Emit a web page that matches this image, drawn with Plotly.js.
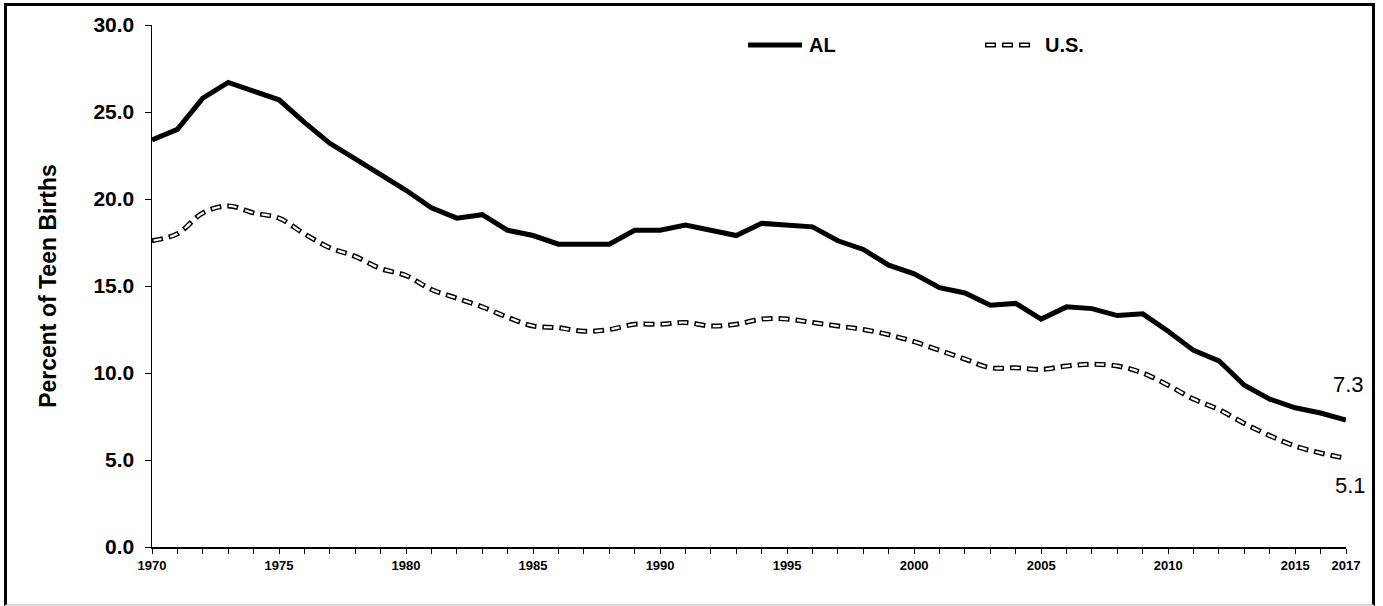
<!DOCTYPE html>
<html>
<head>
<meta charset="utf-8">
<script src="https://cdn.plot.ly/plotly-3.0.1.min.js"></script>
<style>
  html, body { margin: 0; padding: 0; background: #fff; }
  #wrap { position: relative; width: 1383px; height: 606px; }
  #chart { position: absolute; left: 0; top: 0; width: 1383px; height: 606px; }
  #frame { position: absolute; left: 4px; top: 3px; width: 1365px; height: 598px;
           border-left: 3px solid #000; border-top: 3px solid #000; border-right: 3px solid #000;
           border-bottom: 2px solid #d9d9d9; pointer-events: none; }
</style>
</head>
<body>
<div id="wrap">
  <div id="chart"></div>
  <div id="frame"></div>
</div>
<script>
// ---- data ----
const years = [];
for (let y = 1970; y <= 2017; y++) years.push(y);

const alValues = [23.4,24.0,25.8,26.7,26.2,25.7,24.4,23.2,22.3,21.4,
                  20.5,19.5,18.9,19.1,18.2,17.9,17.4,17.4,17.4,18.2,
                  18.2,18.5,18.2,17.9,18.6,18.5,18.4,17.6,17.1,16.2,
                  15.7,14.9,14.6,13.9,14.0,13.1,13.8,13.7,13.3,13.4,
                  12.4,11.3,10.7,9.3,8.5,8.0,7.7,7.3];

const usValues = [17.6,18.0,19.2,19.6,19.2,18.9,18.0,17.2,16.7,16.0,
                  15.6,14.8,14.3,13.8,13.2,12.7,12.6,12.4,12.5,12.8,
                  12.8,12.9,12.7,12.8,13.1,13.1,12.9,12.7,12.5,12.2,
                  11.8,11.3,10.8,10.3,10.3,10.2,10.4,10.5,10.4,10.0,
                  9.3,8.5,7.9,7.1,6.4,5.8,5.4,5.1];

const labeledYears = [1970,1975,1980,1985,1990,1995,2000,2005,2010,2015,2017];
const yTicks = [0,5,10,15,20,25,30];
const seriesNames = ["AL", "U.S."];

const FONT = "Liberation Sans, Arial, sans-serif";

const OUTER_DASH = "11px,6px";
const INNER_DASH = "0px,1.5px,8px,7.5px";

const traces = [
  {
    x: years, y: alValues, name: seriesNames[0], type: "scatter", mode: "lines",
    line: { color: "#000", width: 5 }, hoverinfo: "skip"
  },
  {
    x: years, y: usValues, name: seriesNames[1], type: "scatter", mode: "lines",
    line: { color: "#000", width: 5, dash: OUTER_DASH, shape: "spline", smoothing: 1 },
    hoverinfo: "skip"
  },
  {
    x: years, y: usValues, name: seriesNames[1] + " inner", type: "scatter", mode: "lines",
    line: { color: "#fff", width: 2.2, dash: INNER_DASH, shape: "spline", smoothing: 1 },
    hoverinfo: "skip"
  }
];

// legend (drawn as key swatches + labels, in paper coordinates)
const legY = 0.9617;
const legendShapes = [
  { type: "line", xref: "paper", yref: "paper", x0: 0.4992, x1: 0.5444, y0: legY, y1: legY,
    line: { color: "#000", width: 5 } },
  { type: "line", xref: "paper", yref: "paper", x0: 0.6977, x1: 0.7379, y0: legY, y1: legY,
    line: { color: "#000", width: 5, dash: OUTER_DASH } },
  { type: "line", xref: "paper", yref: "paper", x0: 0.6977, x1: 0.7379, y0: legY, y1: legY,
    line: { color: "#fff", width: 2.2, dash: INNER_DASH } }
];
const legendLabels = [
  { xref: "paper", yref: "paper", x: 0.5486, y: legY, text: seriesNames[0], showarrow: false,
    xanchor: "left", yanchor: "middle", font: { family: FONT, size: 20, weight: "bold", color: "#000" } },
  { xref: "paper", yref: "paper", x: 0.7462, y: legY, text: seriesNames[1], showarrow: false,
    xanchor: "left", yanchor: "middle", font: { family: FONT, size: 20, weight: "bold", color: "#000" } }
];

const layout = {
  width: 1383, height: 606,
  margin: { l: 152, r: 37, t: 25, b: 59 },
  paper_bgcolor: "#fff", plot_bgcolor: "#fff",
  font: { family: FONT, color: "#000" },
  showlegend: false,
  xaxis: {
    range: [1970, 2017],
    tickmode: "array",
    tickvals: years,
    ticktext: years.map(y => labeledYears.includes(y) ? String(y) : ""),
    ticks: "outside", ticklen: 5, tickwidth: 1, tickcolor: "#000",
    showline: true, linecolor: "#000", linewidth: 2,
    showgrid: false, zeroline: false,
    tickfont: { family: FONT, size: 13, weight: "bold", color: "#000" },
    fixedrange: true
  },
  yaxis: {
    range: [0, 30],
    tickmode: "array", tickvals: yTicks, ticktext: yTicks.map(v => v.toFixed(1)),
    ticks: "outside", ticklen: 6, tickwidth: 1, tickcolor: "#000",
    ticklabelstandoff: 6,
    showline: true, linecolor: "#000", linewidth: 1.5,
    showgrid: false, zeroline: false,
    tickfont: { family: FONT, size: 21, weight: "bold", color: "#000" },
    title: { text: "Percent of Teen Births", font: { family: FONT, size: 23, weight: "bold", color: "#000" }, standoff: 30 },
    fixedrange: true
  },
  shapes: legendShapes,
  annotations: legendLabels.concat([
    { x: years[years.length-1], y: alValues[alValues.length-1], xref: "x", yref: "y",
      text: alValues[alValues.length-1].toFixed(1), showarrow: false,
      xanchor: "center", yanchor: "middle", yshift: 35, xshift: 2,
      font: { family: FONT, size: 22, color: "#000" } },
    { x: years[years.length-1], y: usValues[usValues.length-1], xref: "x", yref: "y",
      text: usValues[usValues.length-1].toFixed(1), showarrow: false,
      xanchor: "center", yanchor: "middle", yshift: -27, xshift: 4,
      font: { family: FONT, size: 22, color: "#000" } }
  ])
};

Plotly.newPlot("chart", traces, layout, { staticPlot: true, displayModeBar: false });
</script>
</body>
</html>
